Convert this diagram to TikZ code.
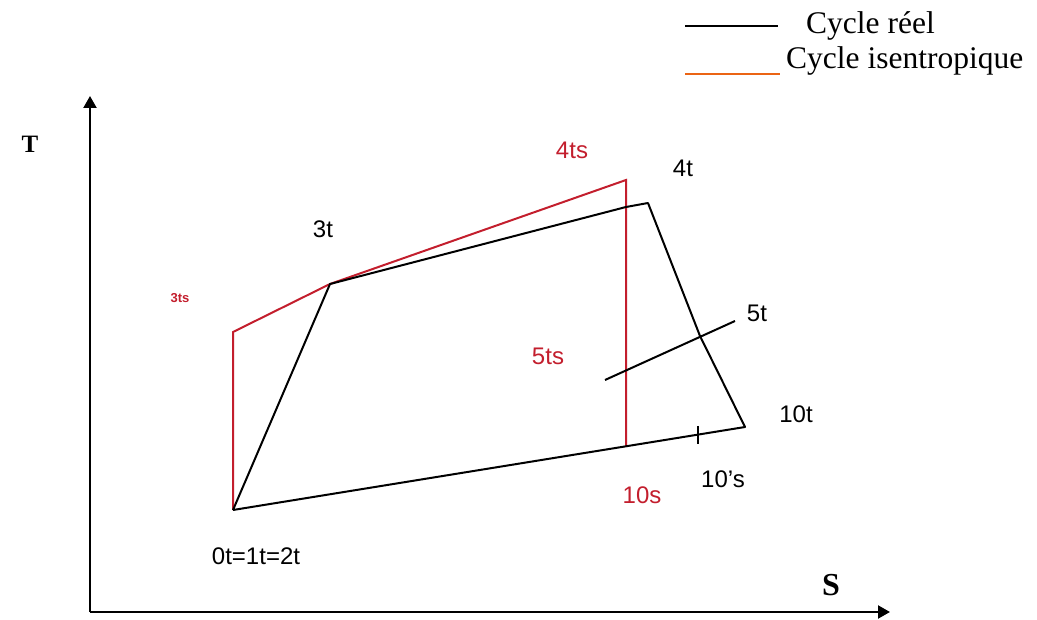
\documentclass[tikz,border=0pt]{standalone}
\usepackage{fontspec}
\setmainfont{Liberation Serif}
\newfontfamily\lblfont{Liberation Sans}
\usetikzlibrary{arrows.meta,calc}
\definecolor{IsenRed}{RGB}{195,30,45}
\definecolor{LegendOrange}{RGB}{235,100,20}
\tikzset{
  reel/.style={line width=2pt, black},
  isen/.style={line width=2pt, IsenRed},
  axe/.style={line width=2.2pt, -{Triangle[length=12pt,width=13pt]}},
  lbl/.style={font=\lblfont\fontsize{24}{28}\selectfont},
  lblred/.style={lbl, text=IsenRed}
}
\begin{document}
\begin{tikzpicture}[x=1pt,y=-1pt]
        \useasboundingbox (0,0) rectangle (1037,620);
        % points du cycle
        \coordinate (p1) at (233,510);
        \coordinate (p3ts) at (233,332);
        \coordinate (p3t) at (330,284);
        \coordinate (p4ts) at (626,180);
        \coordinate (p4i) at (626,207);
        \coordinate (p4t) at (648,203);
        \coordinate (p5t) at (700,336);
        \coordinate (p10t) at (745,427);
        \coordinate (p10s) at (626,447);
        \coordinate (p10ps) at (698,435);
        \coordinate (a5) at (605,380);
        \coordinate (b5) at (735,321);
        % axes
        \coordinate (o) at (90,612);
        \coordinate (ty) at (90,96);
        \coordinate (sx) at (890,612);
        \draw[axe] (o) -- (ty);
        \draw[axe] (o) -- (sx);
        \node[font=\bfseries\fontsize{25}{28}\selectfont] (T) at (30,144) {T};
        \node[font=\bfseries\fontsize{32}{36}\selectfont] (S) at (831,585) {S};
        % cycle isentropique
        \draw[isen] (p1) -- (p3ts) -- (p3t) -- (p4ts) -- (p10s);
        % cycle reel
        \draw[reel, line join=round] (p1) -- (p3t) -- (p4i) -- (p4t) -- (p5t) -- (p10t) -- (p1);
        \draw[reel] (a5) -- (b5);
        \draw[reel] ($(p10ps)+(0,-9)$) -- ($(p10ps)+(0,9)$);
        % etiquettes
        \node[lbl] (l3t) at (323,229) {3t};
        \node[lbl] (l4t) at (683,168) {4t};
        \node[lbl] (l5t) at (757,313) {5t};
        \node[lbl] (l10t) at (796,414) {10t};
        \node[lbl] (l10ps) at (723,479) {10’s};
        \node[lbl] (l0t) at (256,556) {0t=1t=2t};
        \node[lblred] (l4ts) at (572,150) {4ts};
        \node[lblred] (l5ts) at (548,356) {5ts};
        \node[lblred] (l10s) at (642,495) {10s};
        \node[lblred, font=\lblfont\bfseries\fontsize{13}{15}\selectfont] (l3ts) at (180,298) {3ts};
        % legende
        \coordinate (la) at (685,26);
        \coordinate (lb) at (778,26);
        \coordinate (lc) at (685,74);
        \coordinate (ld) at (780,74);
        \draw[line width=2pt] (la) -- (lb);
        \draw[line width=2pt, LegendOrange] (lc) -- (ld);
        \node[anchor=base west, inner sep=0pt, font=\fontsize{31.5}{36}\selectfont] (leg1) at (806,34) {Cycle réel};
        \node[anchor=base west, inner sep=0pt, font=\fontsize{31.5}{36}\selectfont] (leg2) at (786,69) {Cycle isentropique};
      \end{tikzpicture}
\end{document}
